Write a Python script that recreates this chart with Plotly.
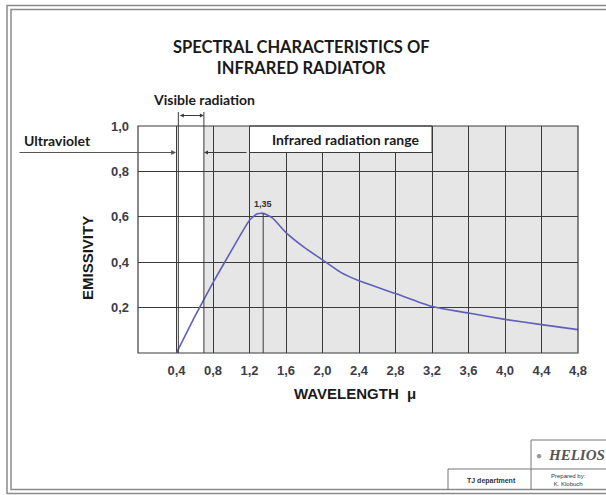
import plotly.graph_objects as go

# Emissivity curve of the infrared radiator (wavelength in micrometres)
wavelength = [0.4, 0.6, 0.8, 1.0, 1.2, 1.28, 1.35, 1.45, 1.6, 1.8, 2.0, 2.2, 2.4, 2.8, 3.2, 3.6, 4.0, 4.4, 4.8]
emissivity = [0.0, 0.16, 0.31, 0.45, 0.585, 0.612, 0.615, 0.595, 0.53, 0.465, 0.41, 0.355, 0.318, 0.262, 0.205, 0.176, 0.148, 0.125, 0.103]

x_ticks = [0.4, 0.8, 1.2, 1.6, 2.0, 2.4, 2.8, 3.2, 3.6, 4.0, 4.4, 4.8]
x_tick_text = ["0,4", "0,8", "1,2", "1,6", "2,0", "2,4", "2,8", "3,2", "3,6", "4,0", "4,4", "4,8"]
y_ticks = [0.2, 0.4, 0.6, 0.8, 1.0]
y_tick_text = ["0,2", "0,4", "0,6", "0,8", "1,0"]

peak_wavelength = 1.35
peak_emissivity = 0.615
visible_start = 0.42
infrared_start = 0.7

W, H = 606, 495
L, R, T, B = 138, 28, 126, 142
PW, PH = W - L - R, H - T - B


def px(x):
    return (x - L) / PW


def py(y):
    return (H - B - y) / PH


GRID = "#3a3a3a"
TEXT = "#1a1a1a"
TICK = "#3d3d48"
TFONT = "Lato, Liberation Sans, sans-serif"
LFONT = "Liberation Sans, Arial, sans-serif"


def label(text, x, y, size, family=LFONT, color=TEXT, **kw):
    d = dict(text=text, xref="paper", yref="paper", x=px(x), y=py(y), showarrow=False,
             xanchor="center", yanchor="middle", font=dict(family=family, size=size, color=color))
    d.update(kw)
    return d


def hline(x0, x1, y, color="#777", width=1):
    return dict(type="line", xref="paper", yref="paper", x0=px(x0), x1=px(x1), y0=py(y), y1=py(y),
                line=dict(color=color, width=width))


def vline(x, y0, y1, color="#777", width=1):
    return dict(type="line", xref="paper", yref="paper", x0=px(x), x1=px(x), y0=py(y0), y1=py(y1),
                line=dict(color=color, width=width))


fig = go.Figure()
fig.add_trace(go.Scatter(
    x=wavelength, y=emissivity, mode="lines",
    line=dict(color="#5f5fba", width=1.6, shape="spline", smoothing=0.5),
    hoverinfo="skip", showlegend=False,
))

shapes = [
    # infrared range shading
    dict(type="rect", xref="x", yref="y", x0=infrared_start, x1=4.8, y0=0, y1=1.0,
         fillcolor="#e6e6e6", line=dict(width=0), layer="below"),
    # visible band boundaries, extended above the plot for the bracket
    dict(type="line", xref="x", yref="paper", x0=visible_start, x1=visible_start,
         y0=0, y1=py(112), line=dict(color=GRID, width=1)),
    dict(type="line", xref="x", yref="paper", x0=infrared_start, x1=infrared_start,
         y0=0, y1=py(112), line=dict(color=GRID, width=1)),
    # marker at the emission peak
    dict(type="line", xref="x", yref="y", x0=peak_wavelength, x1=peak_wavelength,
         y0=0, y1=peak_emissivity, line=dict(color=GRID, width=1)),
    # label box for the infrared range
    dict(type="rect", xref="x", yref="paper", x0=1.2, x1=3.2, y0=py(152.5), y1=1.0,
         fillcolor="white", line=dict(color=GRID, width=1), layer="above"),
    # plot frame
    dict(type="rect", xref="paper", yref="paper", x0=0, x1=1, y0=0, y1=1,
         line=dict(color=GRID, width=1.2), layer="above"),
    # page border (double)
    dict(type="rect", xref="paper", yref="paper", x0=px(7), x1=px(612), y0=py(493.5), y1=py(5.5),
         line=dict(color="#8a8a8a", width=1.5), layer="above"),
    dict(type="rect", xref="paper", yref="paper", x0=px(11), x1=px(612), y0=py(489.5), y1=py(9.5),
         line=dict(color="#8a8a8a", width=1.5), layer="above"),
    # title block
    hline(531, 606, 440),
    vline(531, 440, 490),
    hline(448, 606, 469),
    vline(448, 469, 490),
]

annotations = [
    label("<b>SPECTRAL CHARACTERISTICS OF<br>INFRARED RADIATOR</b>", 301, 57, 16.5, family=TFONT),
    label("<b>Visible radiation</b>", 204, 99, 14, family=TFONT),
    label("<b>Ultraviolet</b>", 57, 140, 14, family=TFONT),
    label("<b>Infrared radiation range</b>", 345, 139, 14, family=TFONT),
    dict(text="<b>1,35</b>", xref="x", yref="y", x=peak_wavelength, y=peak_emissivity,
         yshift=9, showarrow=False, xanchor="center", yanchor="middle",
         font=dict(family=LFONT, size=9, color="#333")),
    label("<b>EMISSIVITY</b>", 87, 258, 15, textangle=-90),
    label("<b>WAVELENGTH  \u03bc</b>", 355, 393, 15),
    # visible band bracket
    dict(text="", xref="x", yref="paper", x=infrared_start, y=py(115.5), axref="x", ax=visible_start,
         ayref="pixel", ay=0, showarrow=True, arrowside="end+start", arrowhead=2, arrowsize=0.8,
         arrowwidth=1, arrowcolor=GRID),
    # ultraviolet arrow
    dict(text="", xref="paper", yref="paper", x=px(176), y=py(152.5), ax=-158, ay=0,
         showarrow=True, arrowhead=2, arrowsize=0.8, arrowwidth=1.2, arrowcolor="#555"),
    # infrared arrow
    dict(text="", xref="paper", yref="paper", x=px(204), y=py(152.5), ax=44, ay=0,
         showarrow=True, arrowhead=2, arrowsize=0.8, arrowwidth=1, arrowcolor=GRID),
    # title block text
    label("<b><i>HELIOS</i></b>", 546, 455, 15, family="Liberation Serif, serif", color="#555",
          xanchor="left"),
    label("\u25cf", 539, 455, 10, color="#999"),
    label("<b>TJ department</b>", 491, 481, 7, color="#333"),
    label("Prepared by:<br>K. Klobuch", 568, 480, 6, color="#333"),
]

fig.update_layout(
    width=W, height=H,
    margin=dict(l=L, r=R, t=T, b=B),
    paper_bgcolor="white", plot_bgcolor="white",
    shapes=shapes, annotations=annotations,
    xaxis=dict(range=[-0.022, 4.8], tickvals=x_ticks, ticktext=x_tick_text,
               showgrid=True, gridcolor=GRID, gridwidth=1, zeroline=False, showline=False,
               ticks="", ticklabelstandoff=8,
               tickfont=dict(family=LFONT, size=13, color=TICK, weight="bold"), fixedrange=True),
    yaxis=dict(range=[0, 1.0], tickvals=y_ticks, ticktext=y_tick_text,
               showgrid=True, gridcolor=GRID, gridwidth=1, zeroline=False, showline=False,
               ticks="", ticklabelstandoff=8,
               tickfont=dict(family=LFONT, size=13, color=TICK, weight="bold"), fixedrange=True),
)

fig.write_html("out.html")
